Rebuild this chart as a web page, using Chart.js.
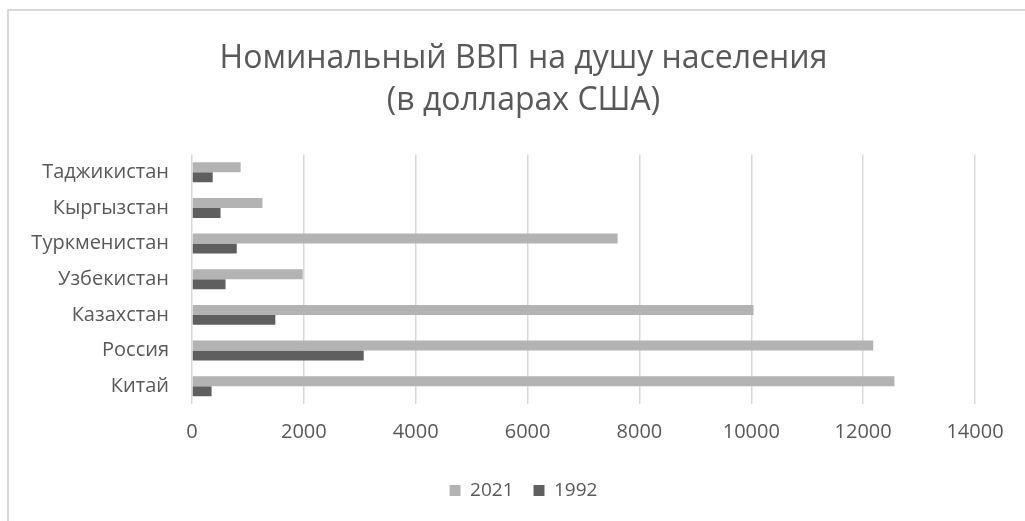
<!DOCTYPE html>
<html>
<head>
<meta charset="utf-8">
<script src="https://cdn.jsdelivr.net/npm/chart.js@4"></script>
<style>
    body { margin: 0; background: #ffffff; }
    #frame {
        position: absolute;
        left: 7px;
        top: 9px;
        width: 1100px;
        height: 600px;
        border-left: 2px solid #d9d9d9;
        border-top: 2px solid #d9d9d9;
    }
    #gdpChart { position: absolute; left: 0; top: 0; }
</style>
</head>
<body>
<div id="frame"></div>
<canvas id="gdpChart" width="1025" height="521"></canvas>
<script>
// Nominal GDP per capita, USD
const countries = ['Таджикистан', 'Кыргызстан', 'Туркменистан', 'Узбекистан', 'Казахстан', 'Россия', 'Китай'];
const gdp2021 = [870, 1260, 7610, 1980, 10040, 12180, 12560];
const gdp1992 = [370, 510, 800, 600, 1490, 3070, 350];
const xTicks = [0, 2000, 4000, 6000, 8000, 10000, 12000, 14000];

const textColor = '#595959';
const fontFamily = "'Open Sans', sans-serif";

// Excel centres title and legend a bit right of the canvas middle
const shiftBlocks = {
    id: 'shiftBlocks',
    afterLayout: function (chart) {
        const dx = 36;
        [chart.titleBlock, chart.legend].forEach(box => {
            if (box) {
                box.left += dx;
                box.right += dx;
            }
        });
    }
};

const ctx = document.getElementById('gdpChart');

new Chart(ctx, {
    type: 'bar',
    data: {
        labels: countries,
        datasets: [{
            label: '2021',
            data: gdp2021,
            backgroundColor: '#b3b3b3',
            borderWidth: 0,
            categoryPercentage: 0.56,
            barPercentage: 1.0
        }, {
            label: '1992',
            data: gdp1992,
            backgroundColor: '#5f5f5f',
            borderWidth: 0,
            categoryPercentage: 0.56,
            barPercentage: 1.0
        }]
    },
    options: {
        indexAxis: 'y',
        responsive: false,
        animation: false,
        layout: {
            padding: { left: 0, right: 50, top: 0, bottom: 11 }
        },
        scales: {
            x: {
                min: 0,
                max: 14000,
                afterBuildTicks: function (scale) {
                    scale.ticks = xTicks.map(v => ({ value: v }));
                },
                afterFit: function (scale) {
                    scale.height = 57;
                },
                border: { display: false },
                grid: {
                    color: '#d9d9d9',
                    lineWidth: 1.5,
                    drawTicks: false
                },
                ticks: {
                    color: textColor,
                    padding: 16,
                    maxRotation: 0,
                    font: { size: 20, family: fontFamily },
                    callback: function (value) {
                        return String(value);
                    }
                }
            },
            y: {
                afterFit: function (scale) {
                    scale.width = 192;
                },
                border: { display: false },
                grid: { display: false },
                ticks: {
                    color: textColor,
                    padding: 15,
                    font: { size: 20, family: fontFamily }
                }
            }
        },
        plugins: {
            title: {
                display: true,
                text: ['Номинальный ВВП на душу населения', '(в долларах США)'],
                color: textColor,
                font: { size: 32, weight: 'normal', family: fontFamily, lineHeight: 1.32 },
                padding: { top: 38, bottom: 32 }
            },
            legend: {
                position: 'bottom',
                labels: {
                    color: textColor,
                    boxWidth: 11,
                    boxHeight: 11,
                    padding: 20,
                    font: { size: 19, family: fontFamily }
                }
            },
            tooltip: { enabled: false }
        }
    },
    plugins: [shiftBlocks]
});
</script>
</body>
</html>
